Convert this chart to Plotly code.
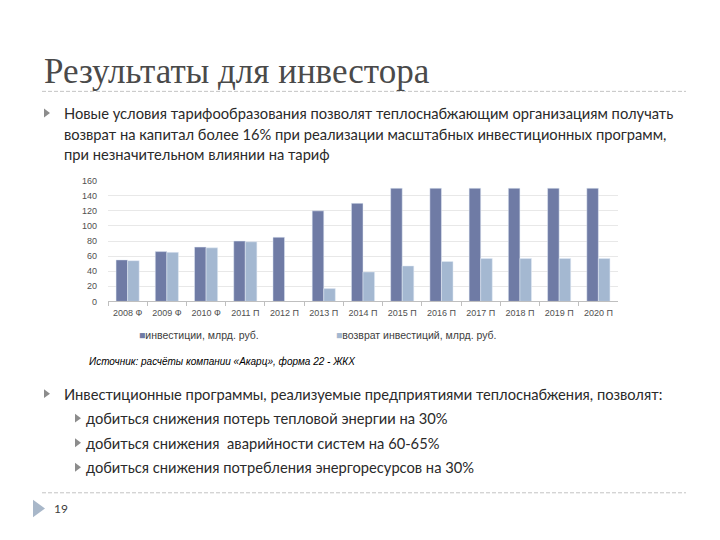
import plotly.graph_objects as go

W, H = 720, 540

categories = ["2008 Ф", "2009 Ф", "2010 Ф", "2011 П", "2012 П", "2013 П", "2014 П",
              "2015 П", "2016 П", "2017 П", "2018 П", "2019 П", "2020 П"]
investments = [55, 66, 72, 80, 85, 120, 130, 150, 150, 150, 150, 150, 150]
returns = [54, 65, 71, 79, None, 17, 39, 47, 53, 57, 57, 57, 57]
y_ticks = [0, 20, 40, 60, 80, 100, 120, 140, 160]

series_names = ["инвестиции, млрд. руб.", "возврат инвестиций, млрд. руб."]
colors = ["#6f7ba5", "#a4b8d1"]

title_text = "Результаты для инвестора"
bullet1_lines = [
    "Новые условия тарифообразования позволят теплоснабжающим организациям получать",
    "возврат на капитал более 16% при реализации масштабных инвестиционных программ,",
    "при незначительном влиянии на тариф",
]
bullet2 = "Инвестиционные программы, реализуемые предприятиями теплоснабжения, позволят:"
sub_bullets = [
    "добиться снижения потерь тепловой энергии на 30%",
    "добиться снижения  аварийности систем на 60-65%",
    "добиться снижения потребления энергоресурсов на 30%",
]
source_text = "Источник: расчёты компании «Акарц», форма 22 - ЖКХ"
page_no = "19"


def px(x):
    return x / W


def py(y):
    return 1 - y / H


fig = go.Figure()
fig.add_trace(go.Bar(x=categories, y=investments, name=series_names[0],
                     marker_color=colors[0]))
fig.add_trace(go.Bar(x=categories, y=returns, name=series_names[1],
                     marker_color=colors[1]))

body_font = dict(family="Lato", size=14.7, color="#2a2a2a")
ann = []


def add_text(x, y, text, font):
    ann.append(dict(x=px(x), y=py(y), xref="paper", yref="paper", text=text,
                    showarrow=False, xanchor="left", yanchor="middle", font=font))


add_text(42, 68, title_text, dict(family="Liberation Serif", size=35, color="#4a4a4a"))
for i, line in enumerate(bullet1_lines):
    add_text(62, 110 + 21 * i, line, body_font)
add_text(62, 396, bullet2, body_font)
for i, line in enumerate(sub_bullets):
    add_text(84, 421 + 25 * i, line, body_font)
add_text(87, 363, "<i>" + source_text + "</i>",
         dict(family="Liberation Sans", size=10, color="#000000"))
add_text(52, 513, page_no, dict(family="Lato", size=12, color="#404040"))

# legend drawn as text with coloured squares
legend_font = dict(family="Liberation Sans", size=10.5, color="#404040")
for x0, name, col in ((137, series_names[0], colors[0]), (334, series_names[1], colors[1])):
    add_text(x0, 336, f"<span style='color:{col}'>■</span>{name}", legend_font)

shapes = []
for yy in (88, 497):
    shapes.append(dict(type="line", xref="paper", yref="paper",
                       x0=px(42), x1=px(686), y0=py(yy), y1=py(yy),
                       line=dict(color="#c4c4c4", width=1, dash="4px,2px")))


def tri(x, y, w, h, color):
    path = (f"M {px(x)} {py(y - h / 2)} L {px(x + w)} {py(y)} "
            f"L {px(x)} {py(y + h / 2)} Z")
    return dict(type="path", xref="paper", yref="paper", path=path,
                fillcolor=color, line=dict(width=0))


shapes.append(tri(44, 110, 6, 9, "#8c8c8c"))
shapes.append(tri(44, 396, 6, 9, "#8c8c8c"))
for i in range(3):
    shapes.append(tri(75, 421 + 25 * i, 6, 9, "#8c8c8c"))
shapes.append(tri(33, 513, 12, 18, "#a8b7c9"))

fig.update_layout(
    width=W, height=H,
    margin=dict(l=0, r=0, t=0, b=0),
    paper_bgcolor="white", plot_bgcolor="white",
    barmode="group", bargap=0.41, bargroupgap=0,
    showlegend=False,
    annotations=ann,
    shapes=shapes,
    xaxis=dict(domain=[px(108), px(618)], showgrid=False,
               showline=True, linecolor="#bfbfbf", linewidth=1,
               ticks="outside", tickson="boundaries", ticklen=4, tickcolor="#bfbfbf",
               ticklabelstandoff=3,
               tickfont=dict(family="Liberation Sans", size=9, color="#505050")),
    yaxis=dict(domain=[py(302), py(179)], range=[0, 160], tickvals=y_ticks,
               showgrid=True, gridcolor="#e8e8e8", gridwidth=1,
               zeroline=False, showline=False, ticks="",
               ticklabelstandoff=10,
               tickfont=dict(family="Liberation Sans", size=9, color="#505050")),
    font=dict(family="Liberation Sans"),
)

fig.write_html("out.html", config={"displayModeBar": False},
               post_script="document.body.style.margin='0';document.body.style.padding='0';")
